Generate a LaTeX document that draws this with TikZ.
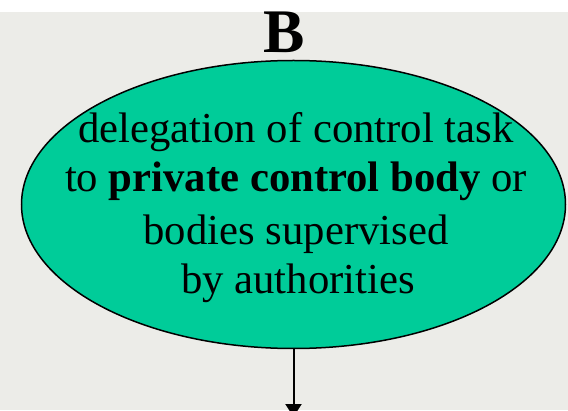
\documentclass[tikz,border=0pt]{standalone}
\usepackage{fontspec}
\setmainfont{Liberation Serif}
\usetikzlibrary{shapes.geometric,arrows.meta}
\definecolor{bggray}{RGB}{236,236,232}
\definecolor{ellgreen}{RGB}{0,204,153}
\tikzset{
  ellbox/.style={ellipse, draw=black, line width=1.5pt, fill=ellgreen, minimum width=544pt, minimum height=288pt, inner sep=0pt},
  linetext/.style={anchor=base, inner sep=0pt, font=\fontsize{42.7pt}{50pt}\selectfont},
  flow/.style={line width=2pt, -{Triangle[width=16pt,length=13pt]}}
}
\begin{document}
\begin{tikzpicture}[x=1pt,y=1pt]
\useasboundingbox (0,0) rectangle (568,410);
\fill[white] (0,0) rectangle (568,410);
\fill[bggray] (0,0) rectangle (568,398);
\node[anchor=base, inner sep=0pt, font=\fontsize{62pt}{70pt}\selectfont\bfseries] (title) at (284,357) {B};
\node[ellbox] (ell) at (293.5,205.5) {};
\node[linetext] (l1) at (296,267) {delegation of control task};
\node[linetext] (l2) at (296,218) {to \textbf{private control body} or};
\node[linetext] (l3) at (296,165) {bodies supervised};
\node[linetext] (l4) at (298,116) {by authorities};
\coordinate (out) at (293.5,-7);
\draw[flow] (ell.south) -- (out);
\end{tikzpicture}
\end{document}
